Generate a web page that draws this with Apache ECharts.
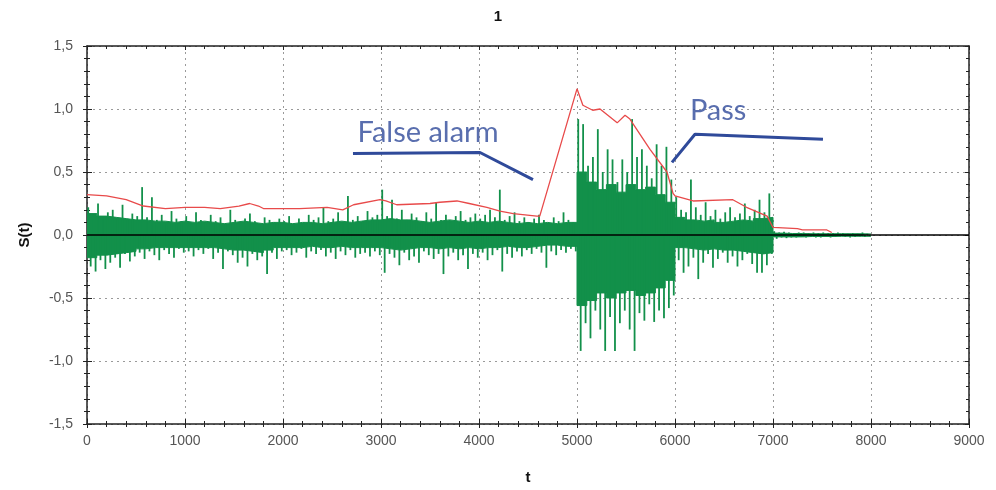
<!DOCTYPE html>
<html>
<head>
<meta charset="utf-8">
<script src="https://cdn.jsdelivr.net/npm/echarts@6/dist/echarts.min.js"></script>
<style>html,body{margin:0;padding:0;background:#fff}#c{width:996px;height:490px}</style>
</head>
<body>
<div id="c"></div>
<script>
// ---- data ----
const chartTitle = '1';
const xTicks = [0, 1000, 2000, 3000, 4000, 5000, 6000, 7000, 8000, 9000];
const yTicks = [-1.5, -1.0, -0.5, 0.0, 0.5, 1.0, 1.5];
// green signal: positive / negative peak per 50-unit slot of t (0 .. 7950)
const sigStep = 50;
const sigPos = [
  0.22,0.16,0.25,0.14,0.18,0.20,0.13,0.24,0.12,0.17,0.15,0.38,0.14,0.30,0.12,0.16,0.10,0.19,0.13,0.11,
  0.15,0.09,0.18,0.12,0.10,0.16,0.11,0.14,0.09,0.20,0.12,0.10,0.13,0.17,0.11,0.09,0.14,0.12,0.10,0.13,
  0.11,0.15,0.09,0.13,0.10,0.16,0.12,0.14,0.22,0.11,0.13,0.18,0.10,0.31,0.12,0.15,0.11,0.19,0.14,0.16,
  0.36,0.15,0.28,0.13,0.20,0.12,0.17,0.14,0.11,0.18,0.13,0.26,0.12,0.16,0.10,0.15,0.19,0.12,0.14,0.17,
  0.13,0.16,0.20,0.14,0.36,0.12,0.15,0.18,0.11,0.14,0.10,0.13,0.16,0.12,0.09,0.14,0.11,0.18,0.12,0.10,
  0.92,0.88,0.55,0.62,0.84,0.50,0.68,0.60,0.42,0.60,0.50,0.92,0.62,0.68,0.55,0.45,0.72,0.55,0.70,0.44,
  0.30,0.20,0.18,0.44,0.22,0.16,0.26,0.15,0.20,0.13,0.18,0.22,0.14,0.17,0.25,0.15,0.20,0.28,0.18,0.33,
  0.03,0.02,0.025,0.02,0.015,0.02,0.02,0.015,0.02,0.015,0.02,0.015,0.015,0.02,0.015,0.01,0.015,0.01,0.02,0.01
];
const sigNeg = [
  -0.25,-0.29,-0.20,-0.27,-0.22,-0.18,-0.26,-0.15,-0.21,-0.17,-0.14,-0.19,-0.13,-0.16,-0.20,-0.12,-0.15,-0.18,-0.11,-0.14,
  -0.13,-0.17,-0.12,-0.15,-0.11,-0.19,-0.14,-0.27,-0.13,-0.16,-0.22,-0.18,-0.25,-0.15,-0.20,-0.17,-0.31,-0.14,-0.19,-0.13,
  -0.12,-0.16,-0.14,-0.11,-0.18,-0.13,-0.15,-0.12,-0.17,-0.14,-0.19,-0.13,-0.16,-0.12,-0.18,-0.15,-0.14,-0.17,-0.13,-0.16,
  -0.30,-0.15,-0.18,-0.24,-0.14,-0.20,-0.17,-0.22,-0.13,-0.16,-0.19,-0.15,-0.31,-0.17,-0.14,-0.20,-0.16,-0.27,-0.15,-0.18,
  -0.14,-0.20,-0.16,-0.12,-0.29,-0.15,-0.18,-0.13,-0.17,-0.12,-0.15,-0.11,-0.14,-0.26,-0.13,-0.16,-0.12,-0.14,-0.11,-0.13,
  -0.92,-0.70,-0.82,-0.60,-0.75,-0.92,-0.65,-0.92,-0.70,-0.60,-0.75,-0.92,-0.62,-0.68,-0.55,-0.69,-0.60,-0.66,-0.58,-0.48,
  -0.20,-0.30,-0.25,-0.18,-0.35,-0.22,-0.15,-0.26,-0.19,-0.14,-0.22,-0.17,-0.25,-0.20,-0.15,-0.23,-0.30,-0.30,-0.24,-0.15,
  -0.03,-0.02,-0.025,-0.02,-0.02,-0.015,-0.02,-0.015,-0.02,-0.02,-0.015,-0.02,-0.015,-0.01,-0.015,-0.02,-0.015,-0.01,-0.015,-0.01
];
// solid body of the green signal per 100-unit slot of t (0 .. 7900)
const bodyStep = 100;
const bodyTop = [
  0.17,0.15,0.14,0.13,0.12,0.12,0.11,0.11,0.10,0.11,
  0.10,0.11,0.10,0.09,0.10,0.11,0.10,0.09,0.10,0.10,
  0.09,0.10,0.10,0.09,0.10,0.11,0.10,0.11,0.12,0.12,
  0.13,0.12,0.12,0.11,0.10,0.11,0.12,0.11,0.10,0.11,
  0.10,0.11,0.10,0.09,0.10,0.09,0.10,0.09,0.10,0.10,
  0.50,0.42,0.36,0.40,0.34,0.40,0.36,0.38,0.32,0.26,
  0.14,0.12,0.11,0.12,0.10,0.11,0.12,0.11,0.13,0.14,
  0.015,0.012,0.012,0.01,0.01,0.01,0.01,0.01,0.01,0.008
];
const bodyBot = [
  -0.18,-0.16,-0.15,-0.14,-0.13,-0.11,-0.10,-0.10,-0.10,-0.10,
  -0.10,-0.10,-0.10,-0.11,-0.12,-0.12,-0.13,-0.14,-0.12,-0.10,
  -0.10,-0.10,-0.09,-0.10,-0.10,-0.09,-0.10,-0.10,-0.10,-0.10,
  -0.11,-0.12,-0.11,-0.10,-0.10,-0.11,-0.10,-0.11,-0.10,-0.11,
  -0.10,-0.10,-0.09,-0.10,-0.10,-0.09,-0.08,-0.08,-0.09,-0.09,
  -0.56,-0.52,-0.46,-0.50,-0.46,-0.44,-0.48,-0.46,-0.42,-0.36,
  -0.10,-0.11,-0.12,-0.11,-0.12,-0.12,-0.13,-0.14,-0.15,-0.14,
  -0.015,-0.015,-0.015,-0.012,-0.012,-0.012,-0.01,-0.01,-0.01,-0.01
];
// red envelope
const redT = [0,200,400,575,800,1000,1200,1360,1550,1660,1750,1800,2170,2450,2610,2720,2990,3050,3160,3500,3600,3775,3900,4080,4214,4350,4590,4620,5000,5060,5160,5235,5410,5490,5540,5745,5918,5980,6000,6185,6590,6730,6940,7000,7250,7300,7550,7600];
const redV = [0.32,0.31,0.28,0.23,0.21,0.22,0.22,0.21,0.23,0.25,0.23,0.21,0.21,0.22,0.20,0.24,0.28,0.27,0.24,0.25,0.26,0.27,0.25,0.22,0.19,0.17,0.15,0.15,1.16,1.03,0.99,1.00,0.89,0.95,0.92,0.68,0.50,0.33,0.31,0.27,0.28,0.22,0.15,0.06,0.05,0.04,0.04,0.02];
// annotations
const alarmT = [2714, 4010, 4551];
const alarmV = [0.647, 0.655, 0.44];
const passT = [5969, 6204, 7510];
const passV = [0.576, 0.80, 0.76];
const notes = [
  { text: 'False alarm', t: 3480, v: 0.81 },
  { text: 'Pass', t: 6440, v: 0.99 }
];

// ---- build series data ----
const spikeData = sigPos.map((p, i) => [i * sigStep, p, sigNeg[i]]);
const slotData = arr => {
  const d = arr.map((v, i) => [i * bodyStep, v]);
  d.push([arr.length * bodyStep, arr[arr.length - 1]]); // close the last slot
  return d;
};
const bodyTopData = slotData(bodyTop);
const bodyBotData = slotData(bodyBot);
const redData = redT.map((t, i) => [t, redV[i]]);
const alarmData = alarmT.map((t, i) => [t, alarmV[i]]);
const passData = passT.map((t, i) => [t, passV[i]]);

const fmtY = v => v.toFixed(1).replace('.', ',');
const axisColor = '#222';
const labelFont = { color: '#555', fontSize: 14, fontFamily: 'Liberation Sans, Arial, sans-serif' };
const split = { show: true, lineStyle: { color: '#9a9a9a', type: [2, 4], width: 1 } };
const green = '#12904a';

function renderSpikes(params, api) {
  const t = api.value(0), p = api.value(1), n = api.value(2);
  const a = api.coord([t + sigStep * 0.25, p]);
  const z = api.coord([t + sigStep * 0.25, 0]);
  const b = api.coord([t + sigStep * 0.75, n]);
  const z2 = api.coord([t + sigStep * 0.75, 0]);
  return {
    type: 'group',
    children: [
      { type: 'line', shape: { x1: a[0], y1: a[1], x2: z[0], y2: z[1] }, style: { stroke: green, lineWidth: 1.8 } },
      { type: 'line', shape: { x1: b[0], y1: b[1], x2: z2[0], y2: z2[1] }, style: { stroke: green, lineWidth: 1.8 } }
    ]
  };
}

const chart = echarts.init(document.getElementById('c'), null, { renderer: 'canvas' });
const xBase = { type: 'value', min: 0, max: 9000, interval: 1000 };
const yBase = { type: 'value', min: -1.5, max: 1.5, interval: 0.5 };
const bodySeries = (data) => ({
  type: 'line', data: data, showSymbol: false, symbol: 'none', step: 'end',
  lineStyle: { color: green, width: 1 }, areaStyle: { color: green, opacity: 1, origin: 0 }, z: 2
});
chart.setOption({
  animation: false,
  backgroundColor: '#fff',
  title: {
    text: chartTitle, left: 'center', top: 4,
    textStyle: { fontSize: 15, fontWeight: 'bold', color: '#111', fontFamily: 'Liberation Sans, Arial, sans-serif' }
  },
  grid: { left: 87, right: 27, top: 46, bottom: 63, containLabel: false },
  xAxis: [
    Object.assign({}, xBase, {
      position: 'bottom',
      name: 't', nameLocation: 'middle', nameGap: 46,
      nameTextStyle: { fontSize: 15, fontWeight: 'bold', color: '#111', fontFamily: 'Liberation Sans, Arial, sans-serif' },
      axisLine: { show: true, onZero: false, lineStyle: { color: axisColor, width: 1.5 } },
      axisTick: { show: true, inside: true, length: 5, lineStyle: { color: axisColor } },
      minorTick: { show: true, splitNumber: 5, length: 3, lineStyle: { color: axisColor } },
      axisLabel: Object.assign({ margin: 10, formatter: v => String(v) }, labelFont),
      splitLine: split
    }),
    Object.assign({}, xBase, {
      position: 'bottom',
      axisLine: { show: false, onZero: false },
      axisTick: { show: true, inside: false, length: 4, lineStyle: { color: axisColor } },
      minorTick: { show: true, splitNumber: 5, length: 3, lineStyle: { color: axisColor } },
      axisLabel: { show: false }, splitLine: { show: false }
    }),
    Object.assign({}, xBase, {
      position: 'top',
      axisLine: { show: true, onZero: false, lineStyle: { color: axisColor, width: 1.5 } },
      axisTick: { show: true, inside: true, length: 4, lineStyle: { color: axisColor } },
      minorTick: { show: true, splitNumber: 5, length: 3, lineStyle: { color: axisColor } },
      axisLabel: { show: false }, splitLine: { show: false }
    })
  ],
  yAxis: [
    Object.assign({}, yBase, {
      position: 'left',
      name: 'S(t)', nameLocation: 'middle', nameGap: 55, nameRotate: 90,
      nameTextStyle: { fontSize: 15, fontWeight: 'bold', color: '#111', fontFamily: 'Liberation Sans, Arial, sans-serif' },
      axisLine: { show: true, onZero: false, lineStyle: { color: axisColor, width: 1.5 } },
      axisTick: { show: true, inside: true, length: 5, lineStyle: { color: axisColor } },
      minorTick: { show: true, splitNumber: 5, length: 3, lineStyle: { color: axisColor } },
      axisLabel: Object.assign({ margin: 14, formatter: fmtY }, labelFont),
      splitLine: split
    }),
    Object.assign({}, yBase, {
      position: 'left',
      axisLine: { show: false, onZero: false },
      axisTick: { show: true, inside: false, length: 4, lineStyle: { color: axisColor } },
      minorTick: { show: true, splitNumber: 5, length: 3, lineStyle: { color: axisColor } },
      axisLabel: { show: false }, splitLine: { show: false }
    }),
    Object.assign({}, yBase, {
      position: 'right',
      axisLine: { show: true, onZero: false, lineStyle: { color: axisColor, width: 1.5 } },
      axisTick: { show: true, inside: true, length: 4, lineStyle: { color: axisColor } },
      minorTick: { show: true, splitNumber: 5, length: 3, lineStyle: { color: axisColor } },
      axisLabel: { show: false }, splitLine: { show: false }
    })
  ],
  series: [
    Object.assign({ name: 'body+' }, bodySeries(bodyTopData)),
    Object.assign({ name: 'body-' }, bodySeries(bodyBotData)),
    {
      type: 'custom', name: 'signal', data: spikeData, renderItem: renderSpikes,
      encode: { x: 0, y: [1, 2] }, z: 2, clip: true
    },
    {
      type: 'line', name: 'zero', data: [[0, 0], [9000, 0]], showSymbol: false, symbol: 'none',
      lineStyle: { color: '#000', width: 1.6 }, z: 3
    },
    {
      type: 'line', name: 'envelope', data: redData, showSymbol: false, symbol: 'none',
      lineStyle: { color: '#e84a4a', width: 1.3 }, z: 4
    },
    {
      type: 'line', name: 'alarm', data: alarmData, showSymbol: false, symbol: 'none',
      lineStyle: { color: '#2f4a9a', width: 3 }, z: 5
    },
    {
      type: 'line', name: 'pass', data: passData, showSymbol: false, symbol: 'none',
      lineStyle: { color: '#2f4a9a', width: 3 }, z: 5
    },
    {
      type: 'scatter', name: 'notes', symbolSize: 0, z: 6,
      data: notes.map(n => ({ value: [n.t, n.v], label: { formatter: n.text } })),
      label: {
        show: true, position: 'inside', color: '#2f4a9a', fontSize: 29,
        fontFamily: 'Lato, "Open Sans", sans-serif'
      }
    }
  ]
});
</script>
</body>
</html>
